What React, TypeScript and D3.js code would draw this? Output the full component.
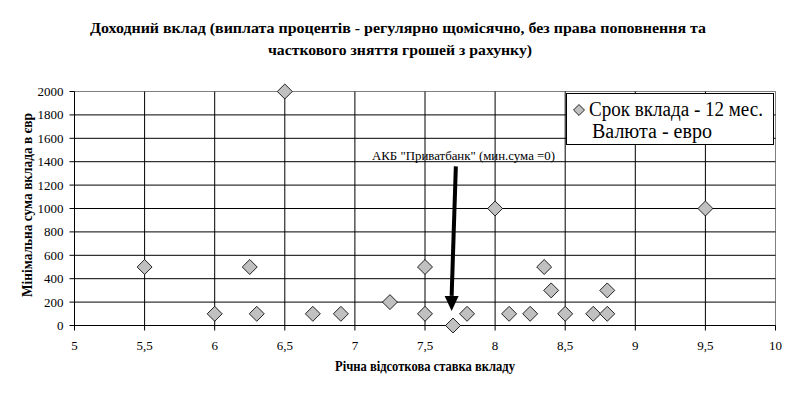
import React from 'react';
import * as d3 from 'd3';

// data
const rates = [5.5, 6, 6.25, 6.3, 6.5, 6.7, 6.9, 7.25, 7.5, 7.5, 7.7, 7.8, 8, 8.1, 8.25, 8.35, 8.4, 8.5, 8.7, 8.8, 8.8, 9.5];
const minSums = [500, 100, 500, 100, 2000, 100, 100, 200, 500, 100, 0, 100, 1000, 100, 100, 500, 300, 100, 100, 100, 300, 1000];
const xTicks = [5, 5.5, 6, 6.5, 7, 7.5, 8, 8.5, 9, 9.5, 10];
const yTicks = [0, 200, 400, 600, 800, 1000, 1200, 1400, 1600, 1800, 2000];
const titleLines = [
  'Доходний вклад (виплата процентів - регулярно щомісячно, без права поповнення та',
  'часткового зняття грошей з рахунку)',
];
const legendLines = ['Срок вклада - 12 мес.', 'Валюта - евро'];
const noteText = 'АКБ "Приватбанк" (мин.сума =0)';
const arrowFrom = [7.72, 1360];
const arrowTo = [7.69, 125];

const App = () => {
  const width = 796;
  const height = 394;

  // plot area
  const x = d3.scaleLinear().domain([5, 10]).range([74.5, 775.5]);
  const y = d3.scaleLinear().domain([0, 2000]).range([325.5, 91.5]);

  const diamond = d3.symbol(d3.symbolSquare, 112)();
  const smallDiamond = d3.symbol(d3.symbolSquare, 60)();
  const fmt = (v: number) => String(v).replace('.', ',');

  const ax1 = x(arrowFrom[0]);
  const ay1 = y(arrowFrom[1]);
  const ax2 = x(arrowTo[0]);
  const ay2 = y(arrowTo[1]);
  const headLen = 15;
  const headW = 7;

  return (
    <svg width={width} height={height} style={{ position: 'absolute', left: 0, top: 0, background: '#fff' }}>
      <style>{`text { font-family: 'Liberation Serif'; }`}</style>
      <rect width={width} height={height} fill='#fff' />

      {/* title */}
      <text x={398} y={33} textAnchor='middle' fontWeight='bold' fontSize={15} textLength={616} lengthAdjust='spacingAndGlyphs'>
        {titleLines[0]}
      </text>
      <text x={400} y={55} textAnchor='middle' fontWeight='bold' fontSize={15} textLength={264} lengthAdjust='spacingAndGlyphs'>
        {titleLines[1]}
      </text>

      {/* plot border */}
      <rect x={x(5)} y={y(2000)} width={x(10) - x(5)} height={y(0) - y(2000)} fill='none' stroke='#808080' />

      {/* horizontal grid */}
      {yTicks.filter((v) => v > 0 && v < 2000).map((v) => (
        <line key={'h' + v} x1={x(5)} x2={x(10)} y1={y(v)} y2={y(v)} stroke='#000' />
      ))}
      {/* vertical grid */}
      {xTicks.filter((v) => v > 5 && v < 10).map((v) => (
        <line key={'v' + v} x1={x(v)} x2={x(v)} y1={y(2000)} y2={y(0)} stroke='#000' />
      ))}

      {/* axes */}
      <line x1={x(5)} x2={x(5)} y1={y(2000)} y2={y(0)} stroke='#000' />
      <line x1={x(5)} x2={x(10)} y1={y(0)} y2={y(0)} stroke='#000' />
      {yTicks.map((v) => (
        <g key={'yt' + v}>
          <line x1={x(5) - 5} x2={x(5)} y1={y(v)} y2={y(v)} stroke='#000' />
          <text x={x(5) - 11} y={y(v) + 4.5} textAnchor='end' fontSize={13}>
            {v}
          </text>
        </g>
      ))}
      {xTicks.map((v) => (
        <g key={'xt' + v}>
          <line x1={x(v)} x2={x(v)} y1={y(0)} y2={y(0) + 5} stroke='#000' />
          <text x={x(v)} y={y(0) + 24} textAnchor='middle' fontSize={13}>
            {fmt(v)}
          </text>
        </g>
      ))}

      {/* axis titles */}
      <text x={425} y={371} textAnchor='middle' fontWeight='bold' fontSize={14} textLength={180} lengthAdjust='spacingAndGlyphs'>
        Річна відсоткова ставка вкладу
      </text>
      <text
        transform='translate(32, 205) rotate(-90)'
        textAnchor='middle'
        fontWeight='bold'
        fontSize={14}
        textLength={184}
        lengthAdjust='spacingAndGlyphs'
      >
        Мінімальна сума вклада в євр
      </text>

      {/* points */}
      {rates.map((r, i) => (
        <path
          key={'p' + i}
          d={diamond || ''}
          transform={`translate(${x(r)}, ${y(minSums[i])}) rotate(45)`}
          fill='#c0c0c0'
          stroke='#000'
          strokeWidth={0.8}
        />
      ))}

      {/* annotation */}
      <text x={372} y={160} fontSize={13} textLength={183} lengthAdjust='spacingAndGlyphs'>
        {noteText}
      </text>
      <line x1={ax1} y1={ay1} x2={ax2} y2={ay2 - headLen} stroke='#000' strokeWidth={4} />
      <path
        d={`M${ax2 - headW},${ay2 - headLen} L${ax2 + headW},${ay2 - headLen} L${ax2},${ay2} Z`}
        fill='#000'
      />

      {/* legend */}
      <rect x={566.5} y={93.5} width={207} height={51} fill='#fff' stroke='#000' />
      <path d={smallDiamond || ''} transform='translate(579, 110) rotate(45)' fill='#c0c0c0' stroke='#000' strokeWidth={0.8} />
      <text x={589} y={116} fontSize={20} textLength={174} lengthAdjust='spacingAndGlyphs'>
        {legendLines[0]}
      </text>
      <text x={592} y={138} fontSize={20}>
        {legendLines[1]}
      </text>
    </svg>
  );
};

export default App;
